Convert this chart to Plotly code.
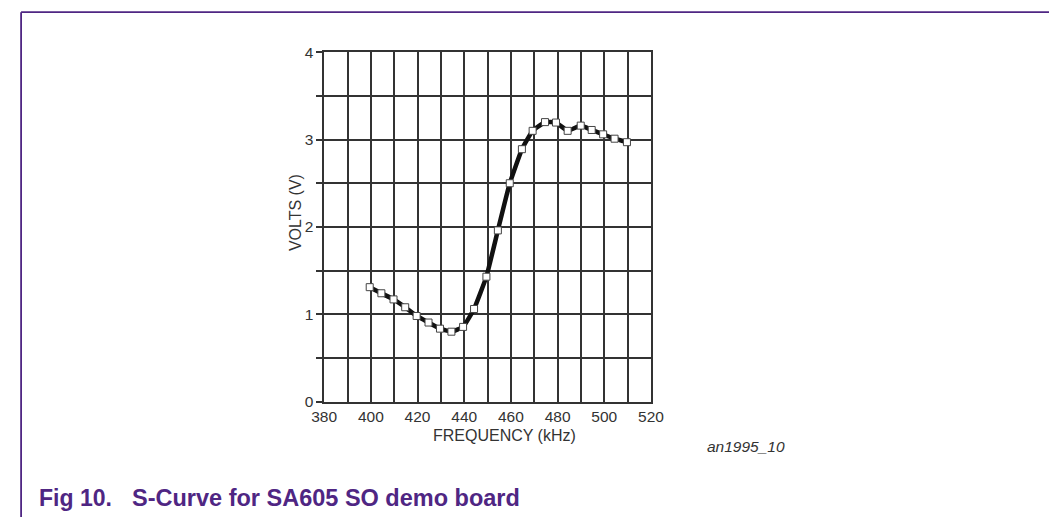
import plotly.graph_objects as go

W, H = 1062, 525

# Data
freq_khz = [399.5, 404.5, 409.7, 414.7, 419.6, 424.7, 429.6, 434.5, 439.5, 444.2,
            449.5, 454.4, 459.5, 464.7, 469.3, 474.6, 479.3, 484.3, 489.9, 494.6,
            499.5, 504.4, 509.7]
volts = [1.31, 1.24, 1.17, 1.08, 0.98, 0.905, 0.835, 0.80, 0.855, 1.06,
         1.43, 1.96, 2.50, 2.89, 3.10, 3.20, 3.195, 3.10, 3.16, 3.11,
         3.06, 3.01, 2.97]

x_range = [380, 520]
y_range = [0, 4]
x_ticks = [380, 400, 420, 440, 460, 480, 500, 520]
y_ticks = [0, 1, 2, 3, 4]

# layout geometry (pixels)
px_left, px_right = 319, 654
px_top, px_bottom = 44.7, 405.7

def fx(px):
    return px / W

def fy(py):
    return 1 - py / H

grid_col = "#333333"
text_col = "#333333"
purple = "#4f2683"
font_family = "Liberation Sans, Arial, sans-serif"

fig = go.Figure()
fig.add_trace(go.Scatter(
    x=freq_khz, y=volts, mode="lines+markers",
    line=dict(color="#111111", width=4.5, shape="spline", smoothing=0.3),
    marker=dict(symbol="square", size=7, color="white",
                line=dict(color="#444444", width=1)),
    showlegend=False, hoverinfo="x+y",
))

fig.update_layout(
    width=W, height=H,
    margin=dict(l=0, r=0, t=0, b=0),
    paper_bgcolor="white", plot_bgcolor="white",
    font=dict(family=font_family, color=text_col, size=15),
    xaxis=dict(
        domain=[fx(px_left), fx(px_right)], range=x_range,
        tickvals=x_ticks, ticks="", showgrid=True, gridcolor=grid_col, gridwidth=1.6,
        minor=dict(dtick=10, tick0=380, showgrid=True, gridcolor=grid_col, gridwidth=1.6),
        showline=True, linecolor=grid_col, linewidth=1.6, mirror=True,
        zeroline=False, tickfont=dict(size=15.5, color=text_col),
        fixedrange=True,
    ),
    yaxis=dict(
        domain=[fy(px_bottom), fy(px_top)], range=y_range,
        tickvals=y_ticks, ticks="outside", ticklen=6, tickwidth=1.6, tickcolor=grid_col,
        showgrid=True, gridcolor=grid_col, gridwidth=1.6,
        minor=dict(dtick=0.5, tick0=0, ticks="outside", ticklen=6, tickwidth=1.6,
                   tickcolor=grid_col, showgrid=True, gridcolor=grid_col, gridwidth=1.6),
        showline=True, linecolor=grid_col, linewidth=1.6, mirror=True,
        zeroline=False, tickfont=dict(size=15.5, color=text_col),
        fixedrange=True,
    ),
)

# axis titles
fig.add_annotation(text="FREQUENCY (kHz)", xref="paper", yref="paper",
                   x=fx(504), y=fy(441), xanchor="center", yanchor="middle",
                   showarrow=False, font=dict(size=16, color=text_col))
fig.add_annotation(text="VOLTS (V)", xref="paper", yref="paper",
                   x=fx(289), y=fy(210), xanchor="center", yanchor="middle",
                   textangle=-90, showarrow=False, font=dict(size=16, color=text_col))
# figure id
fig.add_annotation(text="<i>an1995_10</i>", xref="paper", yref="paper",
                   x=fx(709), y=fy(452), xanchor="left", yanchor="middle",
                   showarrow=False, font=dict(size=15.5, color=text_col))
# caption
fig.add_annotation(text="<b>Fig 10.</b>", xref="paper", yref="paper",
                   x=fx(25), y=fy(505), xanchor="left", yanchor="middle",
                   showarrow=False, font=dict(size=23, color=purple))
fig.add_annotation(text="<b>S-Curve for SA605 SO demo board</b>", xref="paper", yref="paper",
                   x=fx(120), y=fy(505), xanchor="left", yanchor="middle",
                   showarrow=False, font=dict(size=23.5, color=purple))

# purple page frame (top and left rules)
fig.add_shape(type="line", xref="paper", yref="paper",
              x0=fx(8.3), x1=1.0, y0=fy(3.3), y1=fy(3.3),
              line=dict(color=purple, width=1.8))
fig.add_shape(type="line", xref="paper", yref="paper",
              x0=fx(8.3), x1=fx(8.3), y0=fy(3.3), y1=0,
              line=dict(color=purple, width=1.8))

fig.write_html(
    "out.html",
    config={"responsive": False, "displayModeBar": False},
    post_script="document.body.style.margin='0';document.body.style.padding='0';"
                "document.body.style.overflow='hidden';",
)
